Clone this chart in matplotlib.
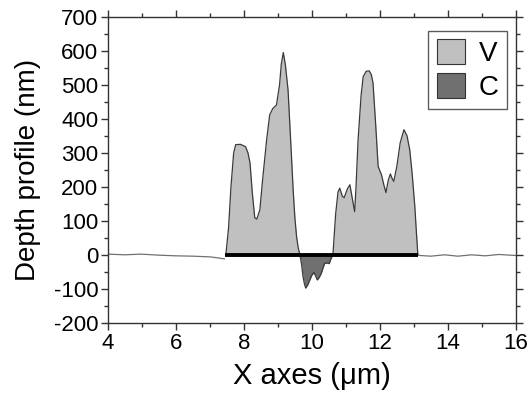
import numpy as np
import matplotlib.pyplot as plt

plt.rcParams['font.family'] = ['Liberation Sans', 'DejaVu Sans']
plt.rcParams['axes.unicode_minus'] = False

# depth profile (x in um, depth in nm)
x_left = [4.0, 4.5, 4.97, 5.5, 6.0, 6.5, 7.0, 7.24, 7.43]
y_left = [2, 0, 2, -1, -3, -4, -6, -9, -12]

x_v1 = [7.47, 7.55, 7.62, 7.7, 7.76, 7.9, 8.05, 8.12, 8.18, 8.25, 8.32, 8.38, 8.47, 8.55,
        8.67, 8.76, 8.85, 8.96, 9.05, 9.1, 9.16, 9.22, 9.30, 9.38, 9.45, 9.5, 9.55, 9.6, 9.65]
y_v1 = [0, 80, 200, 300, 324, 325, 318, 300, 271, 180, 109, 105, 132, 220,
        338, 412, 430, 441, 500, 560, 595, 560, 485, 330, 191, 110, 54, 20, 0]

x_c = [9.65, 9.7, 9.74, 9.78, 9.82, 9.88, 9.94, 10.0, 10.06, 10.11, 10.16, 10.22, 10.28,
       10.33, 10.38, 10.45, 10.51, 10.56, 10.62]
y_c = [0, -30, -64, -85, -98, -88, -74, -60, -52, -62, -74, -66, -54,
       -38, -25, -24, -26, -12, 0]

x_v2 = [10.62, 10.7, 10.77, 10.82, 10.9, 10.95, 11.05, 11.12, 11.2, 11.26, 11.3, 11.36,
        11.45, 11.51, 11.6, 11.69, 11.75, 11.80, 11.88, 11.95, 12.05, 12.12, 12.18, 12.25,
        12.31, 12.36, 12.41, 12.5, 12.6, 12.71, 12.8, 12.88, 12.95, 13.03, 13.08, 13.12]
y_v2 = [0, 120, 185, 196, 172, 168, 195, 206, 160, 127, 200, 338,
        470, 524, 540, 541, 530, 505, 380, 260, 235, 205, 183, 220,
        238, 225, 216, 260, 330, 368, 350, 309, 240, 142, 60, 0]

x_right = [13.12, 13.18, 13.5, 13.9, 14.3, 14.7, 15.1, 15.5, 16.0]
y_right = [0, -2, -4, 0, -4, 0, -3, 1, -2]

bar_start, bar_end = 7.45, 13.12

fig, ax = plt.subplots(figsize=(5.29, 4.01), dpi=100)
fig.subplots_adjust(left=0.204, right=0.975, top=0.958, bottom=0.195)

edge = '#3a3a3a'
ax.plot(x_left, y_left, color='#707070', lw=0.9)
ax.plot(x_right, y_right, color='#707070', lw=0.9)
ax.fill_between(x_v1, y_v1, 0, color='#c0c0c0', lw=0, label='V')
ax.fill_between(x_v2, y_v2, 0, color='#c0c0c0', lw=0)
ax.fill_between(x_c, y_c, 0, color='#707070', lw=0, label='C')
ax.plot(x_v1, y_v1, color=edge, lw=0.9)
ax.plot(x_v2, y_v2, color=edge, lw=0.9)
ax.plot(x_c, y_c, color=edge, lw=0.9)
ax.plot([bar_start, bar_end], [0, 0], color='black', lw=2.8, solid_capstyle='butt')

ax.set_xlim(4, 16)
ax.set_ylim(-200, 700)
ax.set_xticks(np.arange(4, 17, 2))
ax.set_xticks(np.arange(4, 17, 1), minor=True)
ax.set_yticks(np.arange(-200, 701, 100))
ax.set_yticks(np.arange(-200, 701, 50), minor=True)
ax.tick_params(which='both', direction='out', top=True, right=True, labelsize=16,
               color='#333333', pad=2)
ax.tick_params(which='major', length=5, width=1)
ax.tick_params(which='minor', length=3, width=1)
for s in ax.spines.values():
    s.set_color('#333333')
    s.set_linewidth(1)

ax.set_xlabel('X axes (\u03bcm)', fontsize=21, labelpad=6)
ax.set_ylabel('Depth profile (nm)', fontsize=20, labelpad=9)

leg = ax.legend(loc='upper right', fontsize=20, frameon=True, fancybox=False,
                edgecolor='#333333', handlelength=1.0, handleheight=1.0,
                handletextpad=0.5, borderpad=0.3, labelspacing=0.2,
                borderaxespad=0, bbox_to_anchor=(0.978, 0.954))
leg.get_frame().set_linewidth(1)
for h in leg.legend_handles:
    h.set_edgecolor('#333333')
    h.set_linewidth(0.8)

fig.savefig('out.png', dpi=100)
